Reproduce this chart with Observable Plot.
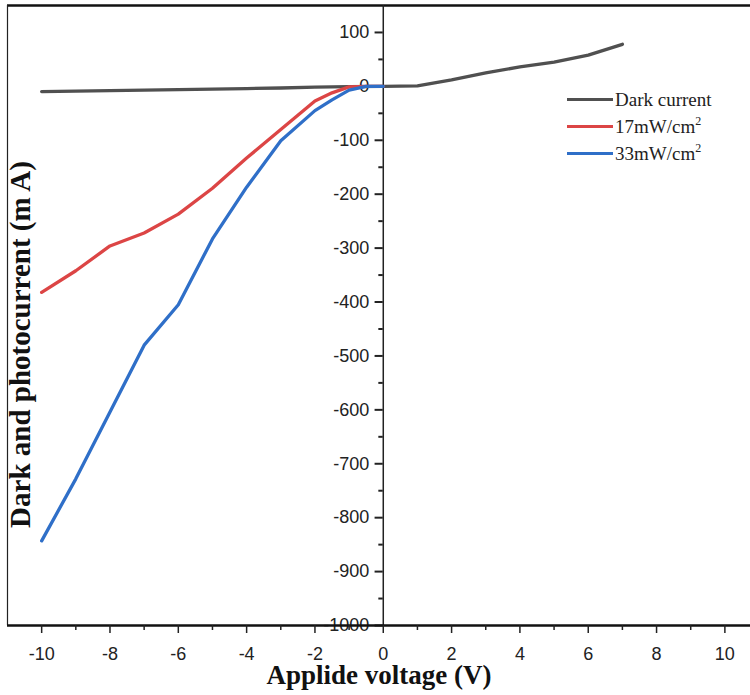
<!DOCTYPE html>
<html><head><meta charset="utf-8">
<script src="https://cdn.jsdelivr.net/npm/d3@7"></script>
<script src="https://cdn.jsdelivr.net/npm/@observablehq/plot@0.6"></script>
<style>
body{margin:0;background:#fff;}
#wrap{position:relative;width:750px;height:695px;}
#legend{position:absolute;left:567px;top:86px;font-family:"Liberation Serif",serif;font-size:19px;color:#222;}
#legend .row{height:27px;display:flex;align-items:center;}
#legend .sw{display:inline-block;width:46px;height:3.5px;margin-right:2px;}
#legend sup{font-size:12px;vertical-align:8px;line-height:0;}
</style></head>
<body><div id="wrap"><div id="chart"></div><div id="legend"></div></div>
<script>
const seriesNames = ["Dark current", "17mW/cm", "33mW/cm"];
const seriesColors = ["#505050", "#dc4545", "#2f6fc8"];
const darkV = [-10,-9,-8,-7,-6,-5,-4,-3,-2,-1,0,1,2,3,4,5,6,7];
const darkI = [-9.7,-8.8,-8,-7,-6,-5,-4,-3,-1.5,-0.5,0,1,12,25,36,45,58,78];
const photoV = [-10,-9,-8,-7,-6,-5,-4,-3,-2,-1.5,-1,-0.5,0];
const i17 = [-382,-342,-296,-272,-237,-189,-133,-80,-27,-12,-1,0,0];
const i33 = [-843,-728,-604,-480,-405,-283,-187,-101,-45,-25,-7,0,0];
const xMajor = [-10,-8,-6,-4,-2,0,2,4,6,8,10];
const xMinor = [-9,-7,-5,-3,-1,1,3,5,7,9];
const yMajor = [100,0,-100,-200,-300,-400,-500,-600,-700,-800,-900,-1000];
const yMinor = [50,-50,-150,-250,-350,-450,-550,-650,-750,-850,-950];
const xTitle = "Applide voltage (V)";
const yTitle = "Dark and photocurrent (m A)";

const rows = [];
darkV.forEach((v,i)=>rows.push({s:seriesNames[0],v,c:darkI[i]}));
photoV.forEach((v,i)=>rows.push({s:seriesNames[1],v,c:i17[i]}));
photoV.forEach((v,i)=>rows.push({s:seriesNames[2],v,c:i33[i]}));

const tickFont = {fontFamily:"Liberation Sans, Arial, sans-serif", fontSize:18};
const chart = Plot.plot({
  width:750, height:695,
  marginLeft:7, marginRight:0, marginTop:5, marginBottom:70,
  x:{domain:[-11,10.75], axis:null},
  y:{domain:[-1000,150], axis:null},
  color:{domain:seriesNames, range:seriesColors},
  style:{background:"#fff", overflow:"visible"},
  marks:[
    Plot.ruleY([150],{stroke:"#111",strokeWidth:2.5}),
    Plot.ruleX([-11],{stroke:"#222",strokeWidth:1.2}),
    Plot.ruleX([0],{stroke:"#222",strokeWidth:1.5}),
    Plot.ruleY(yMajor,{y:d=>d,x1:0,x2:-0.24,stroke:"#222",strokeWidth:2}),
    Plot.ruleY(yMinor,{y:d=>d,x1:0,x2:-0.13,stroke:"#222",strokeWidth:2}),
    Plot.text(yMajor,{y:d=>d,x:0,dx:-14,textAnchor:"end",text:d=>String(d),fill:"#222",...tickFont, letterSpacing:"1.5px"}),
    Plot.line(rows,{x:"v",y:"c",z:"s",stroke:"s",strokeWidth:3.3,curve:"linear"}),
    Plot.ruleY([-1000],{stroke:"#111",strokeWidth:2.5}),
    Plot.axisX(xMajor,{tickSize:8,tickPadding:14,stroke:"#222",strokeWidth:1.5,tickFormat:d=>String(d),...tickFont,fill:"#222",letterSpacing:"1.5px",label:null}),
    Plot.axisX(xMinor,{tickSize:5,tickFormat:()=>"",stroke:"#222",strokeWidth:1.5,label:null}),
    Plot.text([yTitle],{frameAnchor:"left",textAnchor:"middle",rotate:-90,dx:13,dy:29,fontFamily:"Liberation Serif, serif",fontWeight:"bold",fontSize:29,letterSpacing:"2.2px",fill:"#111"}),
    Plot.text([xTitle],{frameAnchor:"bottom",textAnchor:"middle",dy:58,fontFamily:"Liberation Serif, serif",fontWeight:"bold",fontSize:27,fill:"#111"})
  ]
});
document.getElementById("chart").appendChild(chart);

const lg = document.getElementById("legend");
seriesNames.forEach((n,i)=>{
  const r = document.createElement("div"); r.className="row";
  const sw = document.createElement("span"); sw.className="sw"; sw.style.background=seriesColors[i];
  r.appendChild(sw);
  const t = document.createElement("span");
  t.innerHTML = n + (i>0 ? "<sup>2</sup>" : "");
  r.appendChild(t);
  lg.appendChild(r);
});
</script></body></html>
